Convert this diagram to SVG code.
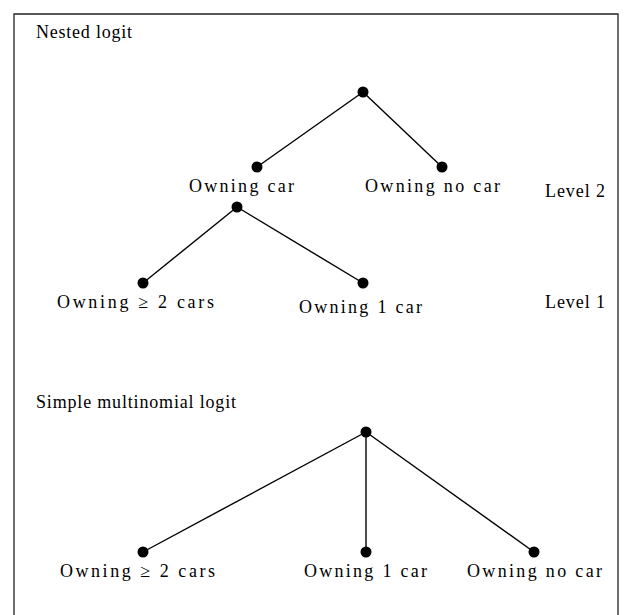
<svg xmlns="http://www.w3.org/2000/svg" width="626" height="615" viewBox="0 0 626 615">
<style>
.frame{stroke:#222;stroke-width:1.3;fill:none}
.edge{stroke:#000;stroke-width:1.4;fill:none}
.dot{fill:#000}
text{font-family:"Liberation Serif","Times New Roman",serif;font-size:18px;fill:#000}
</style>
<rect width="626" height="615" fill="#fff"/>
<g id="frame">
<polyline class="frame" points="14,615 14,14 618,14 618,615"/>
</g>
<g id="titles">
<text x="36" y="38" textLength="96" lengthAdjust="spacing">Nested logit</text>
<text x="36" y="408" textLength="200" lengthAdjust="spacing">Simple multinomial logit</text>
<text x="545" y="197" textLength="60" lengthAdjust="spacing">Level 2</text>
<text x="545" y="308" textLength="60" lengthAdjust="spacing">Level 1</text>
</g>
<g id="connectors">
<line class="edge" x1="363" y1="92" x2="257" y2="167"/>
<line class="edge" x1="363" y1="92" x2="442" y2="167"/>
<line class="edge" x1="237" y1="207" x2="143" y2="283"/>
<line class="edge" x1="237" y1="207" x2="363" y2="283"/>
<line class="edge" x1="366" y1="432" x2="143" y2="552"/>
<line class="edge" x1="366" y1="432" x2="366" y2="552"/>
<line class="edge" x1="366" y1="432" x2="534" y2="552"/>
</g>
<g id="nested-root"><circle class="dot" cx="363" cy="92" r="5.5"/></g>
<g id="nested-owning-car">
<circle class="dot" cx="257" cy="167" r="5.5"/>
<text x="189" y="192" textLength="105" lengthAdjust="spacing">Owning car</text>
</g>
<g id="nested-owning-no-car">
<circle class="dot" cx="442" cy="167" r="5.5"/>
<text x="365" y="192" textLength="135" lengthAdjust="spacing">Owning no car</text>
</g>
<g id="nested-car-root"><circle class="dot" cx="237" cy="207" r="5.5"/></g>
<g id="nested-owning-2-cars">
<circle class="dot" cx="143" cy="283" r="5.5"/>
<text x="57" y="308" textLength="157" lengthAdjust="spacing">Owning ≥ 2 cars</text>
</g>
<g id="nested-owning-1-car">
<circle class="dot" cx="363" cy="283" r="5.5"/>
<text x="299" y="313" textLength="123" lengthAdjust="spacing">Owning 1 car</text>
</g>
<g id="mnl-root"><circle class="dot" cx="366" cy="432" r="5.5"/></g>
<g id="mnl-owning-2-cars">
<circle class="dot" cx="143" cy="552" r="5.5"/>
<text x="60" y="577" textLength="155" lengthAdjust="spacing">Owning ≥ 2 cars</text>
</g>
<g id="mnl-owning-1-car">
<circle class="dot" cx="366" cy="552" r="5.5"/>
<text x="304" y="577" textLength="123" lengthAdjust="spacing">Owning 1 car</text>
</g>
<g id="mnl-owning-no-car">
<circle class="dot" cx="534" cy="552" r="5.5"/>
<text x="467" y="577" textLength="135" lengthAdjust="spacing">Owning no car</text>
</g>
</svg>
